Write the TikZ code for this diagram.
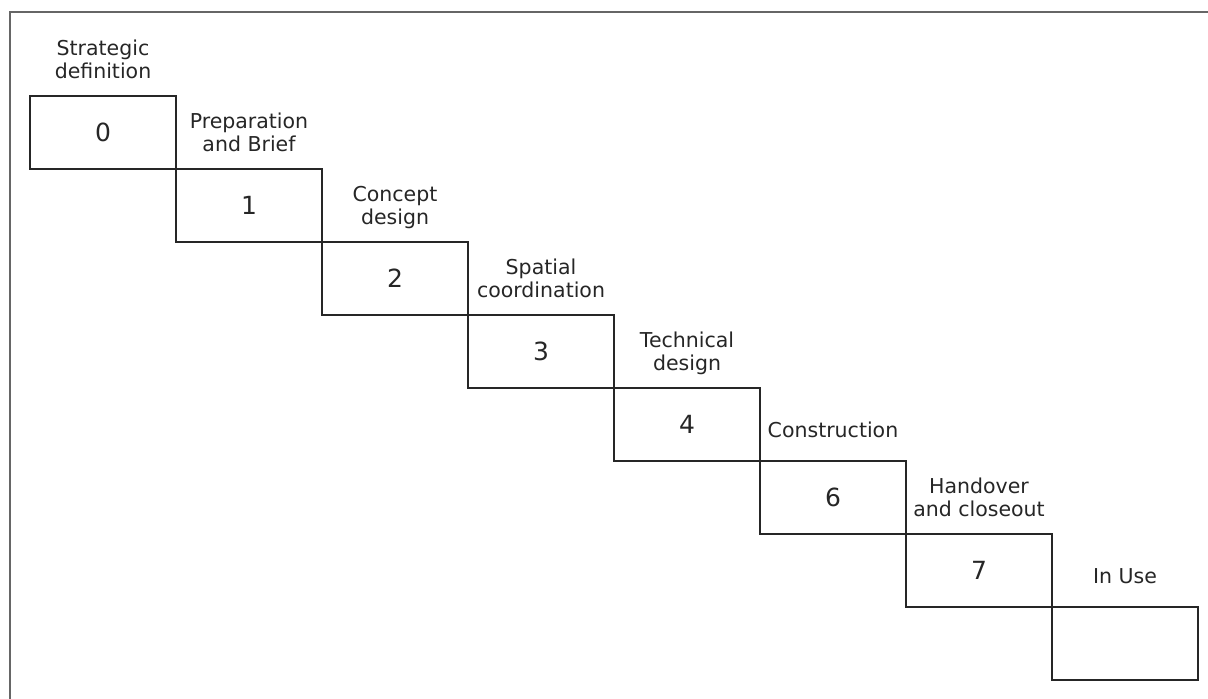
\documentclass[tikz,border=0pt]{standalone}
\usepackage{fontspec}
\setmainfont{DejaVu Sans}
\usetikzlibrary{positioning}

\tikzset{
    stage/.style={draw=black!85, line width=2.6pt, minimum width=146pt,
        minimum height=73pt, inner sep=0pt, outer sep=0pt,
        font=\fontsize{25}{30}\selectfont, text=black!85},
    stagelabel/.style={inner sep=0pt, outer sep=0pt, text depth=0pt,
        align=center, font=\fontsize{20.5}{22.5}\selectfont, text=black!85}
}

\begin{document}
\begin{tikzpicture}[x=1pt,y=-1pt]
    \useasboundingbox (0,0) rectangle (1208,699);
    % frame
    \draw [black!60, line width=2.2pt] (1208,12) -- (10,12) -- (10,699);

    % stages
    \node[stage, anchor=north west] (s0) at (30,96) {0};
    \node[stage, anchor=north west] (s1) at (s0.south east) {1};
    \node[stage, anchor=north west] (s2) at (s1.south east) {2};
    \node[stage, anchor=north west] (s3) at (s2.south east) {3};
    \node[stage, anchor=north west] (s4) at (s3.south east) {4};
    \node[stage, anchor=north west] (s6) at (s4.south east) {6};
    \node[stage, anchor=north west] (s7) at (s6.south east) {7};
    \node[stage, anchor=north west] (use) at (s7.south east) {};

    % labels
    \node[stagelabel, above=18pt of s0] (l0) {Strategic\\definition};
    \node[stagelabel, above=18pt of s1] (l1) {Preparation\\and Brief};
    \node[stagelabel, above=18pt of s2] (l2) {Concept\\design};
    \node[stagelabel, above=18pt of s3] (l3) {Spatial\\coordination};
    \node[stagelabel, above=18pt of s4] (l4) {Technical\\design};
    \node[stagelabel, above=23.5pt of s6] (l6) {Construction};
    \node[stagelabel, above=18pt of s7] (l7) {Handover\\and closeout};
    \node[stagelabel, above=23.5pt of use] (luse) {In Use};
\end{tikzpicture}
\end{document}
